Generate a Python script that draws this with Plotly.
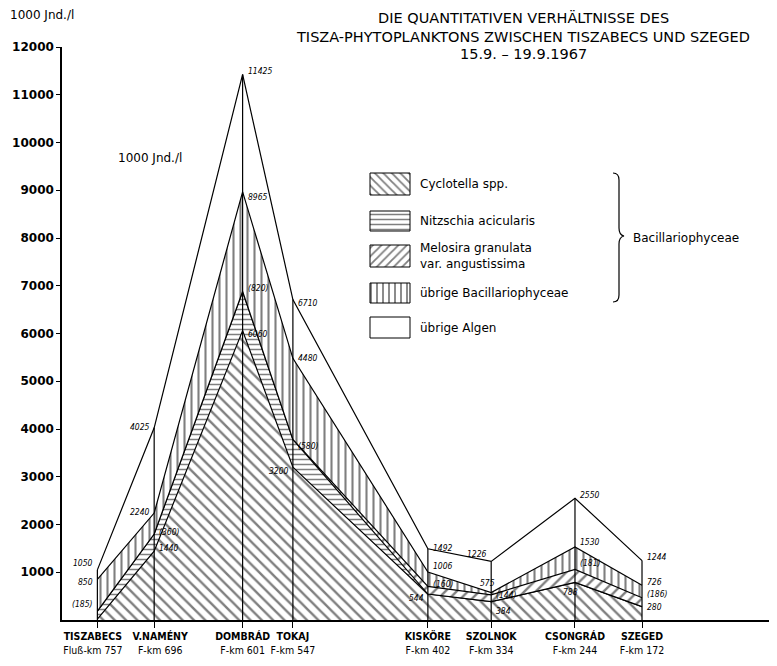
import plotly.graph_objects as go
import numpy as np

# ---------------- data ----------------
stations = ["TISZABECS", "V.NAMÉNY", "DOMBRÁD", "TOKAJ", "KISKÖRE", "SZOLNOK", "CSONGRÁD", "SZEGED"]
km = [757, 696, 601, 547, 402, 334, 244, 172]
km_text = ["Fluß-km 757", "F-km 696", "F-km 601", "F-km 547", "F-km 402", "F-km 334", "F-km 244", "F-km 172"]

# layer amounts in 1000 Jnd./l (bottom to top)
cyclotella   = [20, 1440, 6060, 3200, 544, 384, 788, 280]
nitzschia    = [165, 360, 820, 580, 0, 0, 0, 0]
melosira     = [0, 0, 0, 0, 160, 144, 270, 186]
ubrige_bac   = [665, 440, 2085, 1700, 302, 47, 472, 260]
ubrige_algen = [200, 1785, 2460, 1230, 486, 651, 1020, 518]

# printed value labels
lbl_cyc  = ["", "1440", "6060", "3200", "544", "384", "788", "280"]
lbl_band = ["(185)", "(360)", "(820)", "(580)", "(160)", "(144)", "(181)", "(186)"]
lbl_bac  = ["850", "2240", "8965", "4480", "1006", "575", "1530", "726"]
lbl_tot  = ["1050", "4025", "11425", "6710", "1492", "1226", "2550", "1244"]

y_ticks = [1000, 2000, 3000, 4000, 5000, 6000, 7000, 8000, 9000, 10000, 11000, 12000]
y_tick_text = [str(v) for v in y_ticks]

# ---------------- styles ----------------
# label placement: (side, vertical pixel shift)
pos_cyc  = [("R", 0), ("R", 3), ("R", -3), ("L", -4), ("L", -4), ("R", -9), ("C", -10), ("R", 0)]
pos_band = [("L", 7), ("R", 2), ("R", 3), ("R", -6), ("R", 2), ("R", 0), ("R", 6), ("R", 4)]
pos_bac  = [("L", -3), ("L", 1), ("R", -5), ("R", 0), ("R", 6), ("C", 10), ("R", 5), ("R", 3)]
pos_tot  = [("L", 7), ("L", 1), ("R", 3), ("R", -3), ("R", 1), ("L", 7), ("R", 3), ("R", 4)]
# horizontal nudge of station labels (in non-breaking spaces; <0 = left, >0 = right)
tick_pad = [-3, 4, 0, 0, 0, 0, 0, 0]

FONT = "DejaVu Sans, sans-serif"
NARROW = "DejaVu Sans Condensed, Liberation Sans Narrow, DejaVu Sans, sans-serif"

# the page body adds an 8px offset; size the figure so it fills the window exactly
BODY = 8

fig = go.Figure()

layers = [
    (cyclotella, "\\", 8),
    (nitzschia, "-", 5),
    (melosira, "/", 8),
    (ubrige_bac, "|", 7),
    (ubrige_algen, "", 8),
]
for vals, shp, sz in layers:
    fp = dict(shape=shp, size=sz, solidity=0.3, fgcolor="black", bgcolor="white") if shp else None
    fig.add_trace(go.Scatter(
        x=km, y=vals, stackgroup="one", mode="lines",
        line=dict(color="black", width=1.2),
        fillcolor="white", fillpattern=fp, showlegend=False, hoverinfo="skip"))

totals = np.sum([cyclotella, nitzschia, melosira, ubrige_bac, ubrige_algen], axis=0)
vx, vy = [], []
for k, t in zip(km, totals):
    vx += [k, k, None]
    vy += [0, t, None]
fig.add_trace(go.Scatter(x=vx, y=vy, mode="lines", line=dict(color="black", width=1.2),
                         showlegend=False, hoverinfo="skip"))

# value labels
c1 = np.array(cyclotella)
c2 = c1 + np.array(nitzschia) + np.array(melosira)
c3 = c2 + np.array(ubrige_bac)
c4 = totals
annotations = []
for levels, texts, poss in [(c1, lbl_cyc, pos_cyc), (c2, lbl_band, pos_band),
                            (c3, lbl_bac, pos_bac), (c4, lbl_tot, pos_tot)]:
    for i, (txt, (side, dy)) in enumerate(zip(texts, poss)):
        if not txt:
            continue
        anc = {"L": "right", "R": "left", "C": "center"}[side]
        dx = {"L": -2, "R": 3, "C": -4}[side]
        annotations.append(dict(x=km[i], y=float(levels[i]), xref="x", yref="y", text="<i>" + txt + "</i>",
                                showarrow=False, xanchor=anc, yanchor="middle", xshift=dx, yshift=dy,
                                font=dict(family=NARROW, size=8.5, color="black")))

# ---------------- legend drawn on a pixel-coordinate overlay axis ----------------
legend_items = [
    ("Cyclotella spp.", "\\", 6, 173, 195),
    ("Nitzschia acicularis", "-", 5, 211, 231),
    ("Melosira granulata<br>var. angustissima", "/", 6, 245, 267),
    ("übrige Bacillariophyceae", "|", 6, 283, 303),
    ("übrige Algen", "", 6, 317, 338),
]
for name, shp, sz, y0, y1 in legend_items:
    fp = dict(shape=shp, size=sz, solidity=0.3, fgcolor="black", bgcolor="white") if shp else None
    fig.add_trace(go.Scatter(x=[370, 410, 410, 370, 370], y=[y0, y0, y1, y1, y0],
                             xaxis="x2", yaxis="y2", mode="lines", fill="toself",
                             fillcolor="white", fillpattern=fp,
                             line=dict(color="black", width=1), showlegend=False, hoverinfo="skip"))
    annotations.append(dict(x=418, y=(y0 + y1) / 2, xref="x2", yref="y2", text=name, showarrow=False,
                            xanchor="left", yanchor="middle", align="left",
                            font=dict(family=FONT, size=12, color="black")))

annotations.append(dict(x=631, y=238, xref="x2", yref="y2", text="Bacillariophyceae", showarrow=False,
                        xanchor="left", yanchor="middle", font=dict(family=FONT, size=12, color="black")))
annotations.append(dict(x=150, y=158, xref="x2", yref="y2", text="1000 Jnd./l", showarrow=False,
                        xanchor="center", yanchor="middle", font=dict(family=FONT, size=12, color="black")))

# title and unit label (paper coordinates from window pixels; plot area = 62..777 x 47..620)
def px(xp):
    return (xp - 62) / 715.0
def py(yp):
    return (620 - yp) / 573.0

for i, line in enumerate(["DIE QUANTITATIVEN VERHÄLTNISSE DES",
                          "TISZA-PHYTOPLANKTONS ZWISCHEN TISZABECS UND SZEGED",
                          "15.9. – 19.9.1967"]):
    annotations.append(dict(x=px(523), y=py([17, 37, 54][i]), xref="paper", yref="paper", text=line,
                            showarrow=False, xanchor="center", yanchor="middle",
                            font=dict(family=FONT, size=14.5, color="black")))
annotations.append(dict(x=px(8), y=py(15), xref="paper", yref="paper", text="1000 Jnd./l",
                        showarrow=False, xanchor="left", yanchor="middle",
                        font=dict(family=FONT, size=12, color="black")))

brace = ("M 613,173 Q 619,173 619,180 L 619,228 Q 619,235 624,236 "
         "Q 619,237 619,244 L 619,295 Q 619,302 613,302")


def pad(text, n):
    sp = "&nbsp;" * abs(n)
    return sp + text if n > 0 else text + sp


tick_text = ["%s<br>%s" % (pad("<b>%s</b>" % s, p), pad(t, p))
             for s, t, p in zip(stations, km_text, tick_pad)]

fig.update_layout(
    width=777 - BODY, height=666 - BODY,
    margin=dict(l=62 - BODY, r=0, t=47 - BODY, b=46, autoexpand=False),
    paper_bgcolor="white", plot_bgcolor="white",
    showlegend=False,
    xaxis=dict(range=[795, 27], tickvals=km, ticktext=tick_text,
               tickangle=0, automargin=False,
               showgrid=False, zeroline=False, showline=True, linecolor="black", linewidth=1.5,
               ticks="outside", ticklen=6, tickcolor="black", tickwidth=1.2,
               tickfont=dict(family=NARROW, size=10.5, color="black")),
    yaxis=dict(range=[0, 12000], tickvals=y_ticks, ticktext=y_tick_text, automargin=False,
               showgrid=False, zeroline=False,
               showline=True, linecolor="black", linewidth=1.5,
               ticks="outside", ticklen=4, tickcolor="black",
               tickfont=dict(family=FONT, size=12, color="black", weight="bold")),
    xaxis2=dict(range=[62, 777], overlaying="x", visible=False, anchor="y2"),
    yaxis2=dict(range=[620, 47], overlaying="y", visible=False, anchor="x2"),
    shapes=[dict(type="path", path=brace, xref="x2", yref="y2",
                 line=dict(color="black", width=1.2))],
    annotations=annotations,
)

fig.write_html("out.html")
